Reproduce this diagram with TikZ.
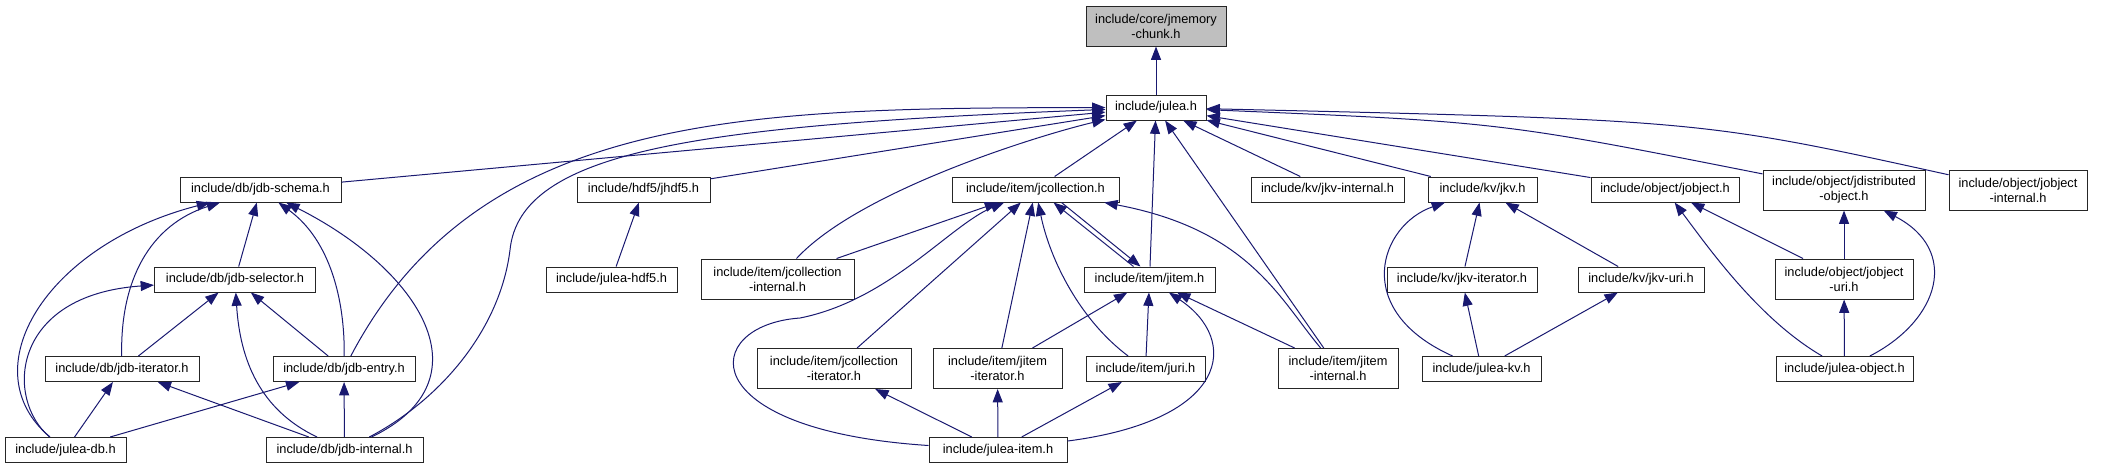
\documentclass[tikz,border=0pt]{standalone}
\usepackage{fontspec}
\setmainfont{Liberation Sans}
\usetikzlibrary{arrows.meta,calc}

\definecolor{edgeblue}{HTML}{191970}
\definecolor{memgray}{HTML}{BFBFBF}

\begin{document}
\begin{tikzpicture}[x=.75pt,y=-.75pt,>={Triangle[length=10pt,width=7.5pt]},
  box/.style={draw=black!85,line width=.75pt,fill=white,inner sep=0pt,minimum height=18.75pt,
    align=center,font=\fontsize{9.6}{11.25}\selectfont},
  tall/.style={box,minimum height=30pt},
  wd/.style={minimum width=#1*.75pt},
  dep/.style={<-,draw=edgeblue,line width=.75pt}]
\useasboundingbox (0,0) rectangle (2115,469);

\node[tall,wd=140,fill=memgray] (mem) at (1156,26) {include/core/jmemory\\-chunk.h};
\node[box,wd=100] (julea) at (1156,107.5) {include/julea.h};
\node[box,wd=161] (schema) at (260.5,189.5) {include/db/jdb-schema.h};
\node[box,wd=133] (hdf5) at (643.5,189.5) {include/hdf5/jhdf5.h};
\node[box,wd=167] (coll) at (1035.5,189.5) {include/item/jcollection.h};
\node[box,wd=153] (kvint) at (1327.5,189.5) {include/kv/jkv-internal.h};
\node[box,wd=109] (kv) at (1482.5,189.5) {include/kv/jkv.h};
\node[box,wd=148] (obj) at (1665,189.5) {include/object/jobject.h};
\node[tall,wd=162] (dobj) at (1844,190) {include/object/jdistributed\\-object.h};
\node[tall,wd=138] (objint) at (2018,190) {include/object/jobject\\-internal.h};
\node[box,wd=161] (sel) at (235,279.5) {include/db/jdb-selector.h};
\node[box,wd=131] (juleahdf5) at (611.5,279.5) {include/julea-hdf5.h};
\node[tall,wd=153] (collint) at (777.5,279) {include/item/jcollection\\-internal.h};
\node[box,wd=131] (item) at (1149.5,279.5) {include/item/jitem.h};
\node[box,wd=150] (kviter) at (1462,279.5) {include/kv/jkv-iterator.h};
\node[box,wd=126] (kvuri) at (1641,279.5) {include/kv/jkv-uri.h};
\node[tall,wd=138] (objuri) at (1844,279) {include/object/jobject\\-uri.h};
\node[box,wd=154] (dbiter) at (122,369) {include/db/jdb-iterator.h};
\node[box,wd=142] (entry) at (344,369) {include/db/jdb-entry.h};
\node[tall,wd=154] (colliter) at (834,368.5) {include/item/jcollection\\-iterator.h};
\node[tall,wd=129] (itemiter) at (997.5,368.5) {include/item/jitem\\-iterator.h};
\node[box,wd=119] (uri) at (1145.5,369) {include/item/juri.h};
\node[tall,wd=120] (itemint) at (1338,368.5) {include/item/jitem\\-internal.h};
\node[box,wd=119] (juleakv) at (1481.5,369) {include/julea-kv.h};
\node[box,wd=137] (juleaobj) at (1844.5,369) {include/julea-object.h};
\node[box,wd=121] (juleadb) at (65.5,450) {include/julea-db.h};
\node[box,wd=157] (dbint) at (344.5,450) {include/db/jdb-internal.h};
\node[box,wd=138] (juleaitem) at (998,450) {include/julea-item.h};

% straight includes
\foreach \a/\b in {mem/julea,julea/schema,julea/hdf5,julea/coll,julea/item,julea/itemint,
    julea/kvint,julea/kv,julea/obj,schema/sel,sel/dbiter,sel/entry,dbiter/juleadb,
    dbiter/dbint,entry/juleadb,entry/dbint,hdf5/juleahdf5,coll/collint,coll/colliter,
    coll/itemiter,item/itemiter,item/uri,item/itemint,colliter/juleaitem,
    itemiter/juleaitem,uri/juleaitem,kv/kviter,kv/kvuri,kviter/juleakv,kvuri/juleakv,
    obj/objuri,dobj/objuri,objuri/juleaobj}
  \draw[dep] (\a) -- (\b);

% bent includes
\draw[dep] (julea) .. controls (750,108) and (480,110) .. (entry);
\draw[dep] (julea) .. controls (700,125) and (520,150) .. (510,250) .. controls (500,330) and (440,400) .. (dbint);
\draw[dep] (julea) .. controls (1040,135) and (860,190) .. (collint);
\draw[dep] (julea) .. controls (1500,122) .. (dobj);
\draw[dep] (julea) .. controls (1700,120) .. (objint);
\draw[dep] (schema) .. controls (150,225) and (120,280) .. (dbiter);
\draw[dep] (schema) .. controls (45,245) and (-30,370) .. (juleadb);
\draw[dep] (schema) .. controls (330,240) and (345,300) .. (entry);
\draw[dep] (schema) .. controls (420,270) and (490,380) .. (dbint);
\draw[dep] (sel) .. controls (10,295) and (5,400) .. (juleadb);
\draw[dep] (sel) .. controls (240,360) and (260,410) .. (dbint);
\draw[dep] (coll) .. controls (950,225) and (890,300) .. (800,318) .. controls (700,325) and (690,430) .. (juleaitem);
\draw[dep] (coll) .. controls (1050,260) and (1080,320) .. (uri);
\draw[dep] (coll) .. controls (1250,230) and (1280,300) .. (itemint);
\draw[dep] ($(coll.south)+(18,0)$) -- ($(item.north)+(-16,0)$);
\draw[dep] ($(item.north)+(-9,0)$) -- ($(coll.south)+(26,0)$);
\draw[dep] (item) .. controls (1240,340) and (1230,420) .. (juleaitem);
\draw[dep] (kv) .. controls (1380,225) and (1350,310) .. (juleakv);
\draw[dep] (obj) .. controls (1710,250) and (1760,320) .. (juleaobj);
\draw[dep] (dobj) .. controls (1960,250) and (1940,320) .. (juleaobj);
\end{tikzpicture}
\end{document}
